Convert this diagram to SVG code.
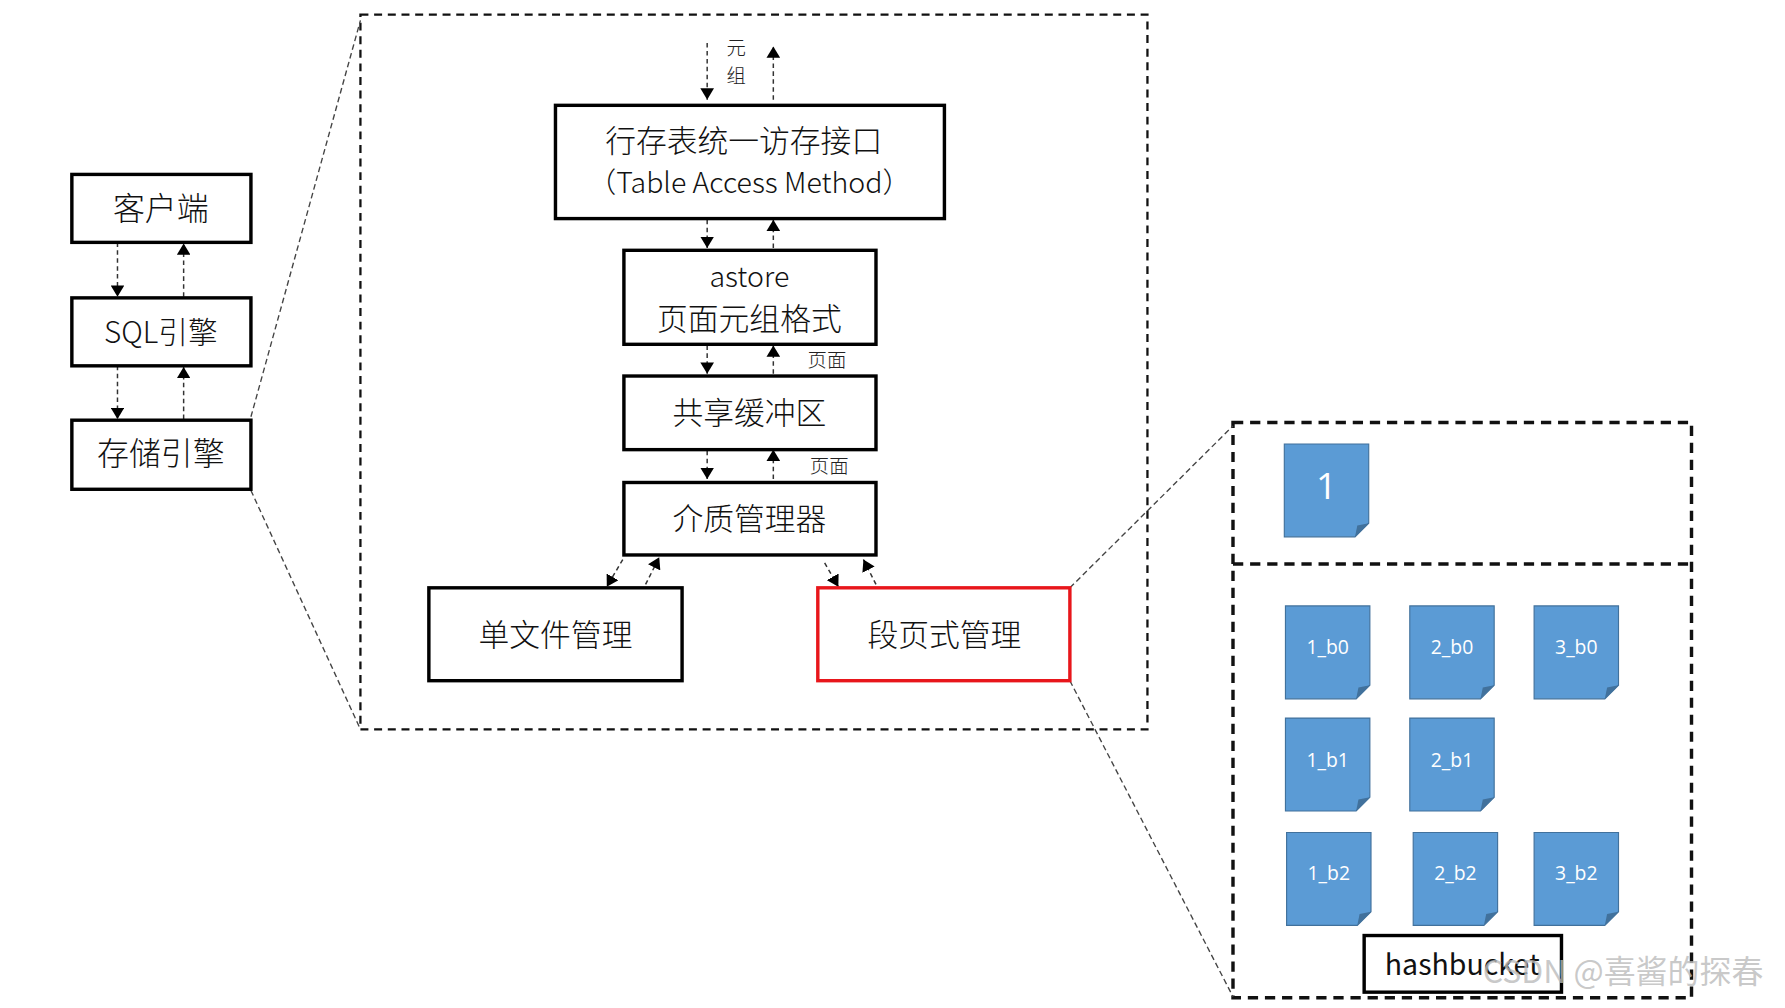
<svg xmlns="http://www.w3.org/2000/svg" width="1785" height="1008" viewBox="0 0 1785 1008">
<style>
.box{fill:#fff;stroke:#000;stroke-width:3}
.red{fill:#fff;stroke:#e8161b;stroke-width:3}
.t{font-family:"Noto Sans CJK SC","Liberation Sans",sans-serif;fill:#111;text-anchor:middle;font-weight:300}
.dash{fill:none;stroke:#111;stroke-width:2;stroke-dasharray:7 5}
.thick{fill:none;stroke:#111;stroke-width:3;stroke-dasharray:9 6}
.zl{fill:none;stroke:#444;stroke-width:1.2;stroke-dasharray:5 3}
.ar{fill:none;stroke:#333;stroke-width:1.3;stroke-dasharray:4 3}
.pg{fill:#5b9bd5;stroke:#41719c;stroke-width:1}
.fold{fill:#41719c}
.pt{font-family:"Open Sans","Liberation Sans",sans-serif;fill:#fff;text-anchor:middle}
.sm{font-family:"Noto Sans CJK SC",serif;fill:#222;font-size:17px;font-weight:300}
</style>
<defs>
<marker id="ah" markerWidth="10" markerHeight="12" refX="10" refY="6" orient="auto" markerUnits="userSpaceOnUse"><path d="M0,0 L10,6 L0,12 z" fill="#000"/></marker>
<symbol id="page" overflow="visible"><path class="pg" d="M0,0 H74 V70 L62,82 H0 Z"/><path class="fold" d="M62,82 L64,72 L74,70 Z"/></symbol>
</defs>
<g transform="scale(1.1406,1.1326)">
<g id="frames">
<rect class="dash" x="316" y="13" width="690" height="631"/>
<rect class="thick" x="1081" y="373" width="402" height="508"/>
<line class="thick" x1="1081" y1="498" x2="1483" y2="498"/>
<line class="zl" x1="220" y1="368" x2="316" y2="18"/>
<line class="zl" x1="220" y1="433" x2="316" y2="644"/>
<line class="zl" x1="938" y1="519" x2="1081" y2="376"/>
<line class="zl" x1="938" y1="601" x2="1081" y2="880"/>
</g>
<g id="connectors">
<line class="ar" x1="103" y1="214" x2="103" y2="262" marker-end="url(#ah)"/>
<line class="ar" x1="161" y1="262" x2="161" y2="215" marker-end="url(#ah)"/>
<line class="ar" x1="103" y1="323" x2="103" y2="370" marker-end="url(#ah)"/>
<line class="ar" x1="161" y1="370" x2="161" y2="324" marker-end="url(#ah)"/>
<line class="ar" x1="620" y1="38" x2="620" y2="88" marker-end="url(#ah)"/>
<line class="ar" x1="678" y1="88" x2="678" y2="41" marker-end="url(#ah)"/>
<line class="ar" x1="620" y1="194" x2="620" y2="219" marker-end="url(#ah)"/>
<line class="ar" x1="678" y1="219" x2="678" y2="194" marker-end="url(#ah)"/>
<line class="ar" x1="620" y1="305" x2="620" y2="330" marker-end="url(#ah)"/>
<line class="ar" x1="678" y1="330" x2="678" y2="305" marker-end="url(#ah)"/>
<line class="ar" x1="620" y1="398" x2="620" y2="423" marker-end="url(#ah)"/>
<line class="ar" x1="678" y1="423" x2="678" y2="397" marker-end="url(#ah)"/>
<line class="ar" x1="546" y1="494" x2="532" y2="518" marker-end="url(#ah)"/>
<line class="ar" x1="566" y1="516" x2="578" y2="492" marker-end="url(#ah)"/>
<line class="ar" x1="723" y1="497" x2="735" y2="518" marker-end="url(#ah)"/>
<line class="ar" x1="768" y1="516" x2="757" y2="494" marker-end="url(#ah)"/>
<text class="sm" x="637" y="49">元</text>
<text class="sm" x="637" y="73">组</text>
<text class="sm" x="708" y="324">页面</text>
<text class="sm" x="710" y="418">页面</text>
</g>
<g id="client"><rect class="box" x="63" y="154" width="157" height="60"/><text class="t" x="141" y="194" font-size="28">客户端</text></g>
<g id="sql"><rect class="box" x="63" y="263" width="157" height="60"/><text class="t" x="141" y="303" font-size="26">SQL引擎</text></g>
<g id="storage"><rect class="box" x="63" y="371" width="157" height="61"/><text class="t" x="141" y="411" font-size="28">存储引擎</text></g>
<g id="tam"><rect class="box" x="487" y="93" width="341" height="100"/><text class="t" x="652" y="134" font-size="27">行存表统一访存接口</text><text class="t" x="657" y="170" font-size="25">（Table Access Method）</text></g>
<g id="astore"><rect class="box" x="547" y="221" width="221" height="83"/><text class="t" x="657" y="253" font-size="25">astore</text><text class="t" x="657" y="291" font-size="27">页面元组格式</text></g>
<g id="buffer"><rect class="box" x="547" y="332" width="221" height="65"/><text class="t" x="657" y="374" font-size="27">共享缓冲区</text></g>
<g id="media"><rect class="box" x="547" y="426" width="221" height="64"/><text class="t" x="657" y="468" font-size="27">介质管理器</text></g>
<g id="single"><rect class="box" x="376" y="519" width="222" height="82"/><text class="t" x="487" y="570" font-size="27">单文件管理</text></g>
<g id="segpage"><rect class="red" x="717" y="519" width="221" height="82"/><text class="t" x="828" y="570" font-size="27">段页式管理</text></g>
<g id="p1"><use href="#page" x="1126" y="392"/><text class="pt" x="1163" y="441" style="font-size:32px">1</text></g>
<g id="p1b0"><use href="#page" x="1127" y="535"/><text class="pt" x="1164" y="577" style="font-size:17px">1_b0</text></g>
<g id="p2b0"><use href="#page" x="1236" y="535"/><text class="pt" x="1273" y="577" style="font-size:17px">2_b0</text></g>
<g id="p3b0"><use href="#page" x="1345" y="535"/><text class="pt" x="1382" y="577" style="font-size:17px">3_b0</text></g>
<g id="p1b1"><use href="#page" x="1127" y="634"/><text class="pt" x="1164" y="677" style="font-size:17px">1_b1</text></g>
<g id="p2b1"><use href="#page" x="1236" y="634"/><text class="pt" x="1273" y="677" style="font-size:17px">2_b1</text></g>
<g id="p1b2"><use href="#page" x="1128" y="735"/><text class="pt" x="1165" y="777" style="font-size:17px">1_b2</text></g>
<g id="p2b2"><use href="#page" x="1239" y="735"/><text class="pt" x="1276" y="777" style="font-size:17px">2_b2</text></g>
<g id="p3b2"><use href="#page" x="1345" y="735"/><text class="pt" x="1382" y="777" style="font-size:17px">3_b2</text></g>
<g id="hashbucket"><rect class="box" x="1196" y="826" width="173" height="50"/><text class="t" x="1282" y="861" font-size="25" style="font-weight:400">hashbucket</text></g>
<text x="1300" y="868" font-family="Noto Sans CJK SC,Liberation Sans,sans-serif" font-size="28" fill="#bbb" fill-opacity="0.8">CSDN @喜酱的探春</text>
</g>
</svg>
